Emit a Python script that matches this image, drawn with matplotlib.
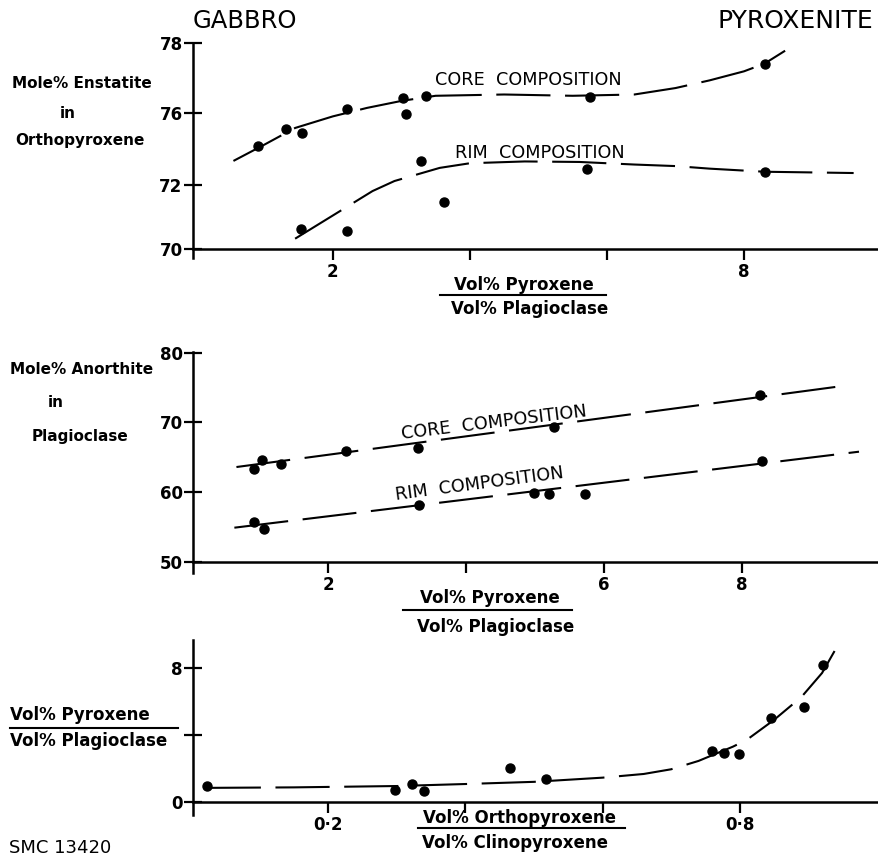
import numpy as np
import matplotlib
matplotlib.use('Agg')
import matplotlib.pyplot as plt
from matplotlib.lines import Line2D

# --- data ---
# top panel: Mole % Enstatite in orthopyroxene vs Vol% Pyroxene / Vol% Plagioclase
en_core_x = [0.91, 1.31, 1.55, 2.2, 3.02, 3.07, 3.36, 5.75, 8.3]
en_core_y = [74.0, 74.66, 74.5, 75.44, 75.86, 75.24, 75.94, 75.9, 77.2]
en_rim_x = [1.53, 2.2, 3.28, 3.62, 5.71, 8.3]
en_rim_y = [70.78, 70.7, 73.4, 71.83, 73.1, 73.0]
en_core_fit_x = [0.55, 1.0, 1.45, 2.0, 2.5, 3.0, 3.5, 4.5, 5.5, 6.4, 7.0, 7.5, 8.0, 8.3, 8.6]
en_core_fit_y = [73.42, 74.05, 74.7, 75.15, 75.48, 75.75, 75.95, 76.0, 75.95, 76.0, 76.25, 76.55, 76.9, 77.2, 77.7]
en_rim_fit_x = [1.45, 2.0, 2.58, 2.9, 3.56, 4.0, 4.8, 5.6, 6.4, 7.0, 7.5, 8.3, 9.6]
en_rim_fit_y = [70.4, 71.3, 72.25, 72.64, 73.15, 73.33, 73.4, 73.38, 73.28, 73.22, 73.12, 73.0, 72.95]
en_ticks = [70, 72.5, 75.3, 78]
en_ticklabels = ['70', '72', '76', '78']

# middle panel: Mole % Anorthite in plagioclase
an_core_x = [0.93, 1.04, 1.32, 2.26, 3.3, 5.28, 8.26]
an_core_y = [63.35, 64.6, 64.06, 65.9, 66.4, 69.4, 74.0]
an_rim_x = [0.93, 1.07, 3.32, 4.99, 5.2, 5.72, 8.3]
an_rim_y = [55.7, 54.7, 58.2, 59.9, 59.8, 59.8, 64.5]
an_core_fit_x = [0.67, 9.52]
an_core_fit_y = [63.6, 75.3]
an_rim_fit_x = [0.64, 9.7]
an_rim_fit_y = [54.9, 65.8]

# bottom panel: px/plag vs opx/cpx
px_x = [0.023, 0.297, 0.322, 0.34, 0.465, 0.517, 0.76, 0.777, 0.799, 0.845, 0.894, 0.921]
px_y = [0.95, 0.72, 1.07, 0.66, 2.03, 1.37, 3.04, 2.93, 2.87, 5.0, 5.67, 8.18]
px_fit_x = [0.023, 0.15, 0.3, 0.4, 0.5, 0.6, 0.66, 0.7, 0.74, 0.79, 0.81, 0.85, 0.89, 0.92, 0.945]
px_fit_y = [0.84, 0.87, 0.95, 1.07, 1.2, 1.45, 1.67, 1.95, 2.45, 3.3, 3.7, 4.9, 6.27, 7.7, 9.5]

W, H = 879, 856
fig = plt.figure(figsize=(W / 100, H / 100), dpi=100)


def box(top, bottom, left=193, right=879):
    return [left / W, 1 - bottom / H, (right - left) / W, (bottom - top) / H]


def ftext(x, y, s, **kw):
    fig.text(x / W, 1 - y / H, s, **kw)


def fline(x0, x1, y):
    fig.add_artist(Line2D([x0 / W, x1 / W], [1 - y / H, 1 - y / H], color='black', lw=1.5))


dash = (0, (26, 7))
lab = dict(fontsize=11, fontweight='bold', color='black')
vlab = dict(fontsize=12, fontweight='bold', color='black')


def style(ax, y0):
    for s in ['top', 'right']:
        ax.spines[s].set_visible(False)
    for s in ['left', 'bottom']:
        ax.spines[s].set_linewidth(1.8)
    ax.spines['bottom'].set_position(('data', y0))
    ax.tick_params(axis='y', direction='inout', length=13, width=1.6, pad=1,
                   labelsize=12)
    ax.tick_params(axis='x', direction='out', length=8, width=1.6, pad=2,
                   labelsize=12)
    for t in ax.get_xticklabels() + ax.get_yticklabels():
        t.set_fontweight('bold')


# top panel
ax1 = fig.add_axes(box(43, 258))
ax1.plot(en_core_fit_x, en_core_fit_y, color='black', lw=1.5, linestyle=dash)
ax1.plot(en_rim_fit_x, en_rim_fit_y, color='black', lw=1.5, linestyle=dash)
ax1.plot(en_core_x, en_core_y, 'o', color='black', ms=6.5)
ax1.plot(en_rim_x, en_rim_y, 'o', color='black', ms=6.5)
ax1.set_xlim(-0.04, 9.97)
ax1.set_ylim(69.65, 78)
ax1.set_yticks(en_ticks)
ax1.set_yticklabels(en_ticklabels)
ax1.set_xticks([2, 4, 6, 8])
ax1.set_xticklabels(['2', '', '', '8'])
style(ax1, 70)
ax1.text(3.49, 76.56, 'CORE  COMPOSITION', fontsize=12.7, ha='left', va='center')
ax1.text(3.78, 73.73, 'RIM  COMPOSITION', fontsize=12.7, ha='left', va='center')

# middle panel
ax2 = fig.add_axes(box(352, 573))
ax2.plot(an_core_fit_x, an_core_fit_y, color='black', lw=1.5, linestyle=dash)
ax2.plot(an_rim_fit_x, an_rim_fit_y, color='black', lw=1.5, linestyle=dash)
ax2.plot(an_core_x, an_core_y, 'o', color='black', ms=6.5)
ax2.plot(an_rim_x, an_rim_y, 'o', color='black', ms=6.5)
ax2.set_xlim(0.04, 9.99)
ax2.set_ylim(48.4, 80.1)
ax2.set_yticks([50, 60, 70, 80])
ax2.set_xticks([2, 4, 6, 8])
ax2.set_xticklabels(['2', '', '6', '8'])
style(ax2, 50)
ax2.text(4.4, 69.9, 'CORE  COMPOSITION', fontsize=12.7, ha='center', va='center',
         rotation=7, rotation_mode='anchor')
ax2.text(4.2, 61.2, 'RIM  COMPOSITION', fontsize=12.7, ha='center', va='center',
         rotation=7.5, rotation_mode='anchor')

# bottom panel
ax3 = fig.add_axes(box(640, 815))
ax3.plot(px_fit_x, px_fit_y, color='black', lw=1.5, linestyle=dash, clip_on=False)
ax3.plot(px_x, px_y, 'o', color='black', ms=6.5)
ax3.set_xlim(0.003, 1.003)
ax3.set_ylim(-0.78, 9.67)
ax3.set_yticks([0, 4, 8])
ax3.set_yticklabels(['0', '', '8'])
ax3.set_xticks([0.2, 0.4, 0.6, 0.8])
ax3.set_xticklabels(['0·2', '', '', '0·8'])
style(ax3, 0)

# headings and axis titles
ftext(193, 21, 'GABBRO', fontsize=17.5, ha='left', va='center')
ftext(873, 21, 'PYROXENITE', fontsize=18, ha='right', va='center')
ftext(9, 848, 'SMC 13420', fontsize=13, ha='left', va='center')

ftext(82, 83, 'Mole% Enstatite', ha='center', va='center', **lab)
ftext(68, 113, 'in', ha='center', va='center', **lab)
ftext(80, 140, 'Orthopyroxene', ha='center', va='center', **lab)

ftext(82, 370, 'Mole% Anorthite', ha='center', va='center', **lab)
ftext(56, 403, 'in', ha='center', va='center', **lab)
ftext(80, 436, 'Plagioclase', ha='center', va='center', **lab)

ftext(10, 715, 'Vol% Pyroxene', ha='left', va='center', **vlab)
fline(10, 178, 728)
ftext(10, 741, 'Vol% Plagioclase', ha='left', va='center', **vlab)

ftext(524, 285, 'Vol% Pyroxene', ha='center', va='center', **vlab)
fline(440, 606, 295)
ftext(530, 309, 'Vol% Plagioclase', ha='center', va='center', **vlab)

ftext(490, 598, 'Vol% Pyroxene', ha='center', va='center', **vlab)
fline(403, 572, 610)
ftext(496, 627, 'Vol% Plagioclase', ha='center', va='center', **vlab)

ftext(520, 818, 'Vol% Orthopyroxene', ha='center', va='center', **vlab)
fline(418, 625, 828)
ftext(515, 843, 'Vol% Clinopyroxene', ha='center', va='center', **vlab)

fig.savefig('out.png', dpi=100, facecolor='white')
